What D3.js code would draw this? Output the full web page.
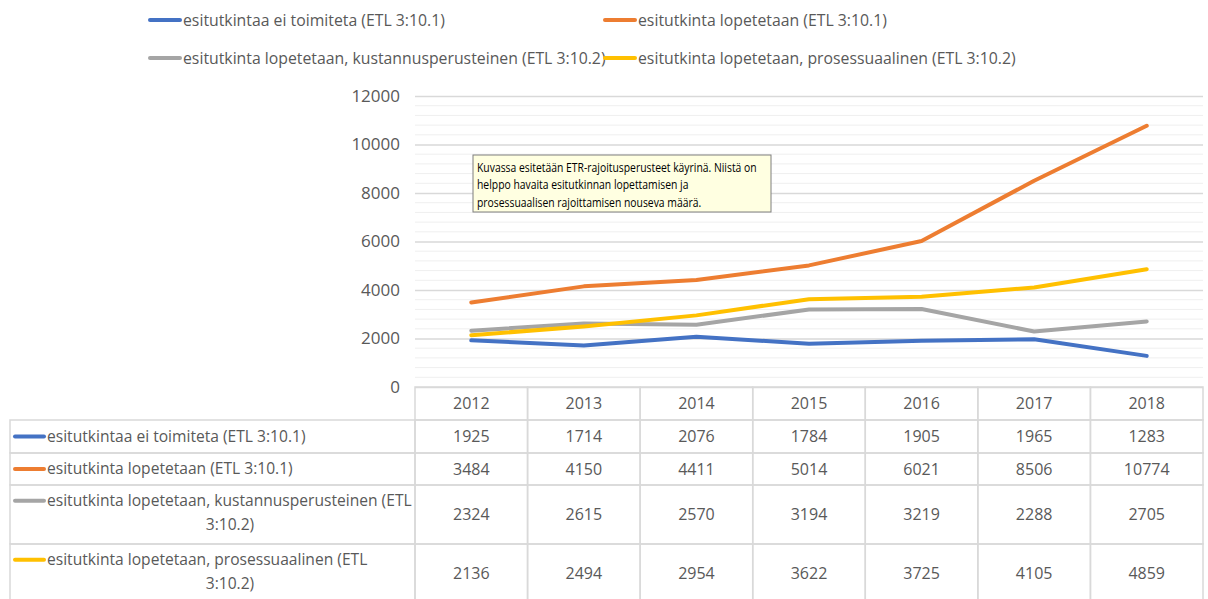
<!DOCTYPE html>
<html><head><meta charset="utf-8">
<script src="https://cdn.jsdelivr.net/npm/d3@7"></script>
<style>
body{margin:0;background:#fff;}
svg text{font-family:"Open Sans",sans-serif;}
</style></head>
<body><svg id="c" width="1208" height="599"></svg>
<script>
const years = ["2012","2013","2014","2015","2016","2017","2018"];
const seriesNames = [
  "esitutkintaa ei toimiteta (ETL 3:10.1)",
  "esitutkinta lopetetaan (ETL 3:10.1)",
  "esitutkinta lopetetaan, kustannusperusteinen (ETL 3:10.2)",
  "esitutkinta lopetetaan, prosessuaalinen (ETL 3:10.2)"
];
const tableLabelLines = [
  ["esitutkintaa ei toimiteta (ETL 3:10.1)"],
  ["esitutkinta lopetetaan (ETL 3:10.1)"],
  ["esitutkinta lopetetaan, kustannusperusteinen (ETL", "3:10.2)"],
  ["esitutkinta lopetetaan, prosessuaalinen (ETL", "3:10.2)"]
];
const colors = ["#4472c4","#ed7d31","#a5a5a5","#ffc000"];
const eiToimiteta = [1925,1714,2076,1784,1905,1965,1283];
const lopetetaan = [3484,4150,4411,5014,6021,8506,10774];
const kustannus = [2324,2615,2570,3194,3219,2288,2705];
const prosessuaalinen = [2136,2494,2954,3622,3725,4105,4859];
const seriesValues = [eiToimiteta, lopetetaan, kustannus, prosessuaalinen];
const yTicks = [0,2000,4000,6000,8000,10000,12000];
const note = ["Kuvassa esitetään ETR-rajoitusperusteet käyrinä. Niistä on",
              "helppo havaita esitutkinnan lopettamisen ja",
              "prosessuaalisen rajoittamisen nouseva määrä."];

const svg = d3.select("#c");
const x = d3.scaleBand().domain(years).range([415,1203]);
const y = d3.scaleLinear().domain([0,12000]).range([387,96]);
const textCol = "#595959";

// minor grid
const minor = d3.range(0,12001,400).filter(v=>v%2000!==0);
svg.append("g").selectAll("line").data(minor).join("line")
  .attr("x1",415).attr("x2",1203).attr("y1",d=>y(d)).attr("y2",d=>y(d))
  .attr("stroke","#efefef").attr("stroke-width",1);
// major grid
const yAxis = d3.axisLeft(y).tickValues(yTicks).tickSize(-(1203-415)).tickPadding(15).tickFormat(d3.format("d"));
const ga = svg.append("g").attr("transform","translate(415,0)").call(yAxis);
ga.select(".domain").remove();
ga.selectAll(".tick line").attr("stroke","#d9d9d9").attr("stroke-width",1.3);
ga.selectAll(".tick text").attr("fill",textCol).attr("font-size",17).attr("font-family","'Open Sans',sans-serif");

// lines
const line = d3.line().x((d,i)=>x(years[i])+x.bandwidth()/2).y(d=>y(d));
svg.append("g").selectAll("path").data(seriesValues).join("path")
  .attr("d",line).attr("fill","none").attr("stroke",(d,i)=>colors[i])
  .attr("stroke-width",4).attr("stroke-linejoin","round").attr("stroke-linecap","round");

// legend
const legPos = [[150,20],[605,20],[150,58],[605,58]];
const lg = svg.append("g").selectAll("g").data(seriesNames).join("g")
  .attr("transform",(d,i)=>`translate(${legPos[i][0]},${legPos[i][1]})`);
lg.append("line").attr("x1",0).attr("x2",30).attr("stroke",(d,i)=>colors[i]).attr("stroke-width",4).attr("stroke-linecap","round");
lg.append("text").attr("x",33).attr("dy","0.35em").attr("font-size",15.8).attr("fill",textCol).text(d=>d);

// table
const rowBounds = [387,420,453,485,544,603];
const tg = svg.append("g");
const bc = "#d9d9d9";
years.forEach(yr=>{
  tg.append("rect").attr("x",x(yr)).attr("y",rowBounds[0]).attr("width",x.bandwidth()).attr("height",rowBounds[1]-rowBounds[0])
    .attr("fill","none").attr("stroke",bc).attr("stroke-width",1.5);
  tg.append("text").attr("x",x(yr)+x.bandwidth()/2).attr("y",(rowBounds[0]+rowBounds[1])/2).attr("dy","0.35em")
    .attr("text-anchor","middle").attr("font-size",16).attr("fill",textCol).text(yr);
});
seriesValues.forEach((vals,r)=>{
  const y0 = rowBounds[r+1], y1 = rowBounds[r+2], ym=(y0+y1)/2;
  tg.append("rect").attr("x",10).attr("y",y0).attr("width",415-10).attr("height",y1-y0)
    .attr("fill","none").attr("stroke",bc).attr("stroke-width",1.5);
  const lines = tableLabelLines[r];
  const lh = 23.5;
  const top = ym - (lines.length-1)*lh/2 - (lines.length>1?2:0);
  tg.append("line").attr("x1",15).attr("x2",44).attr("y1",top).attr("y2",top)
    .attr("stroke",colors[r]).attr("stroke-width",4).attr("stroke-linecap","round");
  lines.forEach((t,k)=>{
    const tx = tg.append("text").attr("y",top+k*lh).attr("dy","0.35em").attr("font-size",15.6).attr("fill",textCol).text(t);
    if(k===0) tx.attr("x",47); else tx.attr("x",230).attr("text-anchor","middle");
  });
  vals.forEach((v,i)=>{
    tg.append("rect").attr("x",x(years[i])).attr("y",y0).attr("width",x.bandwidth()).attr("height",y1-y0)
      .attr("fill","none").attr("stroke",bc).attr("stroke-width",1.5);
    tg.append("text").attr("x",x(years[i])+x.bandwidth()/2).attr("y",ym).attr("dy","0.35em")
      .attr("text-anchor","middle").attr("font-size",16).attr("fill",textCol).text(v);
  });
});

// note box
const ng = svg.append("g").attr("transform","translate(473,155)");
ng.append("rect").attr("width",298).attr("height",57).attr("fill","#ffffe1").attr("stroke","#7f7f7f").attr("stroke-width",1);
const nt = ng.append("g");
nt.selectAll("text").data(note).join("text").attr("x",0).attr("y",(d,i)=>17+i*17.5)
  .attr("font-size",12).attr("fill","#000").text(d=>d);
const w0 = nt.select("text").node().getComputedTextLength();
const sx = 280 / w0;
nt.attr("transform",`translate(4,0) scale(${sx},1)`);
</script></body></html>
